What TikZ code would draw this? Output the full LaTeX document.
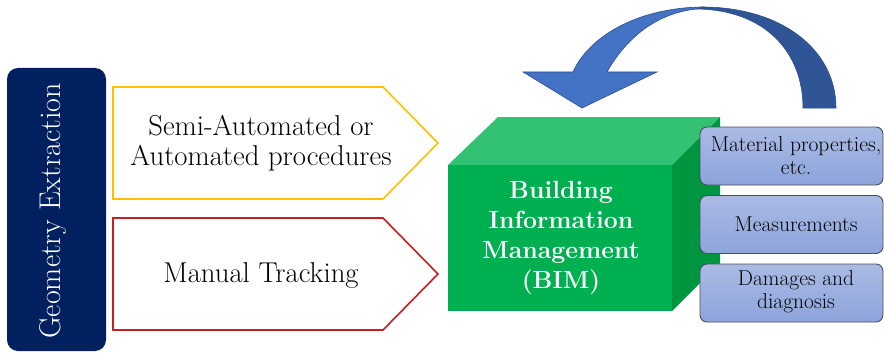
\documentclass[tikz,border=0pt]{standalone}
\usetikzlibrary{shapes.geometric}
\definecolor{navy}{HTML}{002060}
\definecolor{ybord}{HTML}{FFC000}
\definecolor{rbord}{HTML}{C5201E}
\definecolor{gfront}{HTML}{00B050}
\definecolor{gtop}{HTML}{33C173}
\definecolor{gside}{HTML}{00963F}
\definecolor{btop}{HTML}{AABAE4}
\definecolor{bbot}{HTML}{8DA4DB}
\definecolor{bbord}{HTML}{4A4E5A}
\definecolor{arrL}{HTML}{4472C4}
\definecolor{arrR}{HTML}{2F5597}
\definecolor{arrB}{HTML}{2E4F8C}
\tikzset{
  pent/.style={line width=1.6pt, fill=white, line join=miter},
  infobox/.style={draw=bbord, line width=0.9pt, rounded corners=7pt, top color=btop, bottom color=bbot,
    minimum width=183pt, minimum height=58pt, inner sep=0pt},
  infotext/.style={align=center, font=\fontsize{21.5}{23}\selectfont, text=black},
  pentext/.style={align=center, font=\fontsize{28.7}{30}\selectfont, text=black},
  bimtext/.style={align=center, font=\fontsize{24.8}{30}\selectfont\bfseries, text=white},
}
\begin{document}
\begin{tikzpicture}[x=1pt,y=-1pt]
\useasboundingbox (0,0) rectangle (884,353);
% left vertical box
\node[draw=none, fill=navy, rounded corners=11pt, minimum width=99pt, minimum height=283pt, inner sep=0pt] (geo) at (56.5,209.5) {};
\node[rotate=90, text=white, font=\fontsize{30}{32}\selectfont] (geotxt) at (53,211) {Geometry Extraction};
% pentagons
\draw[pent, draw=ybord] (113,87) -- (383,87) -- (438,143) -- (383,199) -- (113,199) -- cycle;
\draw[pent, draw=rbord] (113,218) -- (383,218) -- (438,274) -- (383,330) -- (113,330) -- cycle;
\node[pentext] (semi) at (261,143) {Semi-Automated or\\Automated procedures};
\node[pentext] (manual) at (261,275) {Manual Tracking};
% cube
\fill[gtop] (448,165) -- (498,117) -- (720,117) -- (672,165) -- cycle;
\fill[gside] (672,165) -- (720,117) -- (720,263) -- (672,311) -- cycle;
\fill[gfront] (448,165) rectangle (672,311);
\node[bimtext] (bim) at (561,238) {Building\\Information\\Management\\(BIM)};
% curved arrow
\filldraw[fill=arrR, draw=arrB, line width=0.6pt]
  (836,108) .. controls (836,50) and (782,7) .. (702,7)
  -- (697,9) .. controls (765,10) and (803,52) .. (803,108) -- cycle;
\filldraw[fill=arrL, draw=arrB, line width=0.6pt, line join=miter]
  (702,7) .. controls (635,8) and (588,38) .. (573,72)
  -- (523,72) -- (582,108) -- (657,72) -- (607,72)
  .. controls (625,40) and (655,13) .. (697,9) -- cycle;
% info boxes
\node[infobox] (b1) at (791.5,156) {};
\node[infobox] (b2) at (791.5,224.5) {};
\node[infobox] (b3) at (791.5,293) {};
\node[infotext] (t1) at (796,156) {Material properties,\\etc.};
\node[infotext] (t2) at (796,224) {Measurements};
\node[infotext] (t3) at (796,292) {Damages and\\diagnosis};
\end{tikzpicture}
\end{document}
